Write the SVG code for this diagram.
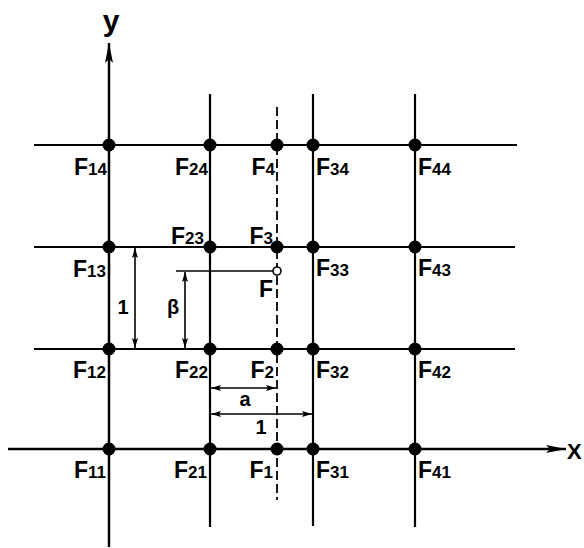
<svg xmlns="http://www.w3.org/2000/svg" width="584" height="548" viewBox="0 0 584 548">
<style>
.ln{stroke:#000;stroke-width:2.2;fill:none}
.ax{stroke:#000;stroke-width:2.5;fill:none}
.dsh{stroke:#000;stroke-width:1.8;fill:none;stroke-dasharray:9 4}
.dim{stroke:#000;stroke-width:1.6;fill:none}
.dot{fill:#000}
text{font-family:"Liberation Sans","DejaVu Sans",sans-serif;fill:#000;font-weight:bold}
.lb{font-size:23px}
.sb{font-size:17px}
.dl{font-size:20px}
</style>
<defs>
<marker id="big" viewBox="0 0 20 8" refX="20" refY="4" markerWidth="20" markerHeight="8" markerUnits="userSpaceOnUse" orient="auto"><path d="M0,0 L20,4 L0,8 L4,4 Z" fill="#000"/></marker>
<marker id="sm" viewBox="0 0 10 6" refX="10" refY="3" markerWidth="10" markerHeight="6" markerUnits="userSpaceOnUse" orient="auto-start-reverse"><path d="M0,0 L10,3 L0,6 L2,3 Z" fill="#000"/></marker>
</defs>
<rect width="584" height="548" fill="#fff"/>
<g id="connectors">
<line class="ax" x1="109" y1="547" x2="109" y2="43" marker-end="url(#big)"/>
<line class="ax" x1="8" y1="449" x2="566" y2="449" marker-end="url(#big)"/>
<line class="ln" x1="210" y1="94" x2="210" y2="527"/>
<line class="dsh" x1="277" y1="107" x2="277" y2="500"/>
<line class="ln" x1="313" y1="94" x2="313" y2="526"/>
<line class="ln" x1="415" y1="94" x2="415" y2="527"/>
<line class="ln" x1="34" y1="145" x2="517" y2="145"/>
<line class="ln" x1="34" y1="247" x2="515" y2="247"/>
<line class="ln" x1="34" y1="349" x2="515" y2="349"/>
<line class="dim" x1="176" y1="271" x2="273" y2="271"/>
<line class="dim" x1="135" y1="248" x2="135" y2="348" marker-start="url(#sm)" marker-end="url(#sm)"/>
<line class="dim" x1="185" y1="272" x2="185" y2="348" marker-start="url(#sm)" marker-end="url(#sm)"/>
<line class="dim" x1="211" y1="388" x2="276" y2="388" marker-start="url(#sm)" marker-end="url(#sm)"/>
<line class="dim" x1="211" y1="414" x2="312" y2="414" marker-start="url(#sm)" marker-end="url(#sm)"/>
</g>
<g id="axis-labels">
<text x="111" y="31" font-size="30" font-weight="normal" text-anchor="middle">y</text>
<text x="567" y="459" font-size="22" font-weight="normal">X</text>
</g>
<g id="dimension-labels">
<text class="dl" x="123" y="314" text-anchor="middle">1</text>
<text class="dl" x="173" y="314" text-anchor="middle">β</text>
<text class="dl" x="245" y="406" text-anchor="middle">a</text>
<text class="dl" x="261" y="434" text-anchor="middle">1</text>
</g>
<g id="F">
<circle cx="277" cy="271" r="4" fill="#fff" stroke="#000" stroke-width="1.6"/>
<text class="lb" x="259" y="297">F</text>
</g>
<g id="F14"><circle class="dot" cx="109" cy="145" r="6.5"/><text class="lb" x="107" y="175" text-anchor="end">F<tspan class="sb">14</tspan></text></g>
<g id="F24"><circle class="dot" cx="210" cy="145" r="6.5"/><text class="lb" x="208" y="175" text-anchor="end">F<tspan class="sb">24</tspan></text></g>
<g id="F4"><circle class="dot" cx="277" cy="145" r="6.5"/><text class="lb" x="275" y="175" text-anchor="end">F<tspan class="sb">4</tspan></text></g>
<g id="F34"><circle class="dot" cx="313" cy="145" r="6.5"/><text class="lb" x="316" y="175">F<tspan class="sb">34</tspan></text></g>
<g id="F44"><circle class="dot" cx="415" cy="145" r="6.5"/><text class="lb" x="418" y="175">F<tspan class="sb">44</tspan></text></g>
<g id="F13"><circle class="dot" cx="109" cy="247" r="6.5"/><text class="lb" x="106" y="277" text-anchor="end">F<tspan class="sb">13</tspan></text></g>
<g id="F23"><circle class="dot" cx="210" cy="247" r="6.5"/><text class="lb" x="204" y="244" text-anchor="end">F<tspan class="sb">23</tspan></text></g>
<g id="F3"><circle class="dot" cx="277" cy="247" r="6.5"/><text class="lb" x="273" y="244" text-anchor="end">F<tspan class="sb">3</tspan></text></g>
<g id="F33"><circle class="dot" cx="313" cy="247" r="6.5"/><text class="lb" x="316" y="276">F<tspan class="sb">33</tspan></text></g>
<g id="F43"><circle class="dot" cx="415" cy="247" r="6.5"/><text class="lb" x="418" y="276">F<tspan class="sb">43</tspan></text></g>
<g id="F12"><circle class="dot" cx="109" cy="349" r="6.5"/><text class="lb" x="106" y="378" text-anchor="end">F<tspan class="sb">12</tspan></text></g>
<g id="F22"><circle class="dot" cx="210" cy="349" r="6.5"/><text class="lb" x="208" y="378" text-anchor="end">F<tspan class="sb">22</tspan></text></g>
<g id="F2"><circle class="dot" cx="277" cy="349" r="6.5"/><text class="lb" x="274" y="378" text-anchor="end">F<tspan class="sb">2</tspan></text></g>
<g id="F32"><circle class="dot" cx="313" cy="349" r="6.5"/><text class="lb" x="316" y="378">F<tspan class="sb">32</tspan></text></g>
<g id="F42"><circle class="dot" cx="415" cy="349" r="6.5"/><text class="lb" x="418" y="378">F<tspan class="sb">42</tspan></text></g>
<g id="F11"><circle class="dot" cx="109" cy="449" r="6.5"/><text class="lb" x="106" y="478" text-anchor="end">F<tspan class="sb">11</tspan></text></g>
<g id="F21"><circle class="dot" cx="210" cy="449" r="6.5"/><text class="lb" x="207" y="478" text-anchor="end">F<tspan class="sb">21</tspan></text></g>
<g id="F1"><circle class="dot" cx="277" cy="449" r="6.5"/><text class="lb" x="273" y="478" text-anchor="end">F<tspan class="sb">1</tspan></text></g>
<g id="F31"><circle class="dot" cx="313" cy="449" r="6.5"/><text class="lb" x="316" y="478">F<tspan class="sb">31</tspan></text></g>
<g id="F41"><circle class="dot" cx="415" cy="449" r="6.5"/><text class="lb" x="418" y="478">F<tspan class="sb">41</tspan></text></g>
</svg>
